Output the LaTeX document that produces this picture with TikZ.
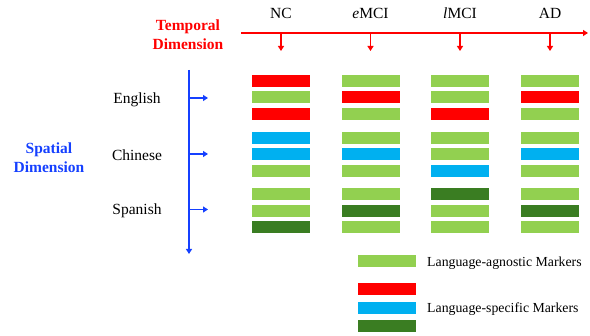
\documentclass[tikz,border=0pt]{standalone}
\usepackage{fontspec}
\setmainfont{Liberation Serif}
\usetikzlibrary{arrows.meta}
\definecolor{lg}{HTML}{92D050}
\definecolor{rd}{HTML}{FF0000}
\definecolor{bl}{HTML}{00B0F0}
\definecolor{dg}{HTML}{3A7D22}
\definecolor{tred}{HTML}{FF0000}
\definecolor{sblue}{HTML}{1540FF}
\begin{document}
\begin{tikzpicture}[x=1pt,y=-1pt,
  bar/.style={rectangle,inner sep=0pt,minimum width=58pt,minimum height=12pt},
  lab/.style={font=\fontsize{15.5}{18}\selectfont,inner sep=0pt},
  leg/.style={font=\fontsize{13.8}{16}\selectfont,inner sep=0pt,anchor=west},
  dimt/.style={font=\fontsize{15.5}{19}\bfseries\selectfont,align=center,inner sep=0pt},
  redarrow/.style={draw=tred,line width=1.5pt,-{Triangle[length=5pt,width=6pt]}},
  bluearrow/.style={draw=sblue,line width=1.5pt,-{Triangle[length=5pt,width=6pt]}}]
\useasboundingbox (0,0) rectangle (590,336);

% temporal axis
\coordinate (tstart) at (241,33);
\coordinate (tend) at (588,33);
\draw[redarrow] (tstart) -- (tend);
\node[dimt,text=tred] (temporal) at (188,35) {Temporal\\Dimension};

\foreach \x/\n/\t in {281/nc/NC,370.5/emci/\textit{e}MCI,460/lmci/\textit{l}MCI,550/ad/AD}{
  \node[lab] (\n) at (\x,13.5) {\t};
  \coordinate (\n-top) at (\x,33);
  \coordinate (\n-tip) at (\x,51);
  \draw[redarrow] (\n-top) -- (\n-tip);
}

% spatial axis
\coordinate (sstart) at (189,70);
\coordinate (send) at (189,254);
\draw[bluearrow] (sstart) -- (send);
\node[dimt,text=sblue] (spatial) at (49,158) {Spatial\\Dimension};

\foreach \y/\n/\t in {98/en/English,154/zh/Chinese,209.5/es/Spanish}{
  \node[lab] (\n) at (137,\y+1.5) {\t};
  \coordinate (\n-from) at (189,\y);
  \coordinate (\n-to) at (208,\y);
  \draw[bluearrow] (\n-from) -- (\n-to);
}

% bars
\foreach \x/\c/\cols in {
  281/1/{rd,lg,rd,bl,bl,lg,lg,lg,dg},
  370.5/2/{lg,rd,lg,lg,bl,lg,lg,dg,lg},
  460/3/{lg,lg,rd,lg,lg,bl,dg,lg,lg},
  550/4/{lg,rd,lg,lg,bl,lg,lg,dg,lg}}{
  \foreach \y [count=\r] in {81,97.5,114,138,154.5,171,194.5,211,227.5}{
    \foreach \col [count=\k] in \cols {
      \ifnum\k=\r
        \node[bar,fill=\col] (b-\c-\r) at (\x,\y) {};
      \fi
    }
  }
}

% legend
\node[bar,fill=lg] (l1) at (387,261) {};
\node[bar,fill=rd] (l2) at (387,289.5) {};
\node[bar,fill=bl] (l3) at (387,308) {};
\node[bar,fill=dg] (l4) at (387,326) {};
\node[leg] (agn) at (427,263) {Language-agnostic Markers};
\node[leg] (spec) at (427,309) {Language-specific Markers};
\end{tikzpicture}
\end{document}
